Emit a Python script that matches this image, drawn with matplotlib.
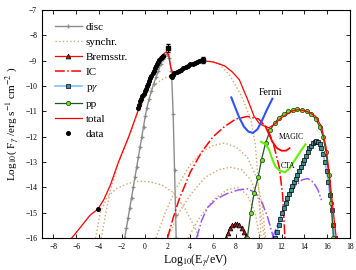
import matplotlib
matplotlib.use("Agg")
import matplotlib.pyplot as plt
import numpy as np

plt.rcParams["font.family"] = ["Liberation Serif", "DejaVu Serif"]
plt.rcParams["mathtext.fontset"] = "stix"

# --- data (log10 E [eV], log10 F [erg s^-1 cm^-2]) ---
disc_x = [-1.75, -1.6, -1.45, -1.3, -1.15, -1.0, -0.85, -0.7, -0.55, -0.4, -0.25, -0.1,
          0.05, 0.2, 0.4, 0.6, 0.8, 1.0, 1.2, 1.4, 1.6, 1.8, 2.0, 2.15, 2.35, 2.5, 2.62,
          2.72, 2.76]
disc_y = [-16.0, -15.6, -15.2, -14.8, -14.4, -14.0, -13.6, -13.2, -12.8, -12.4, -12.0, -11.6,
          -11.2, -10.85, -10.5, -10.2, -9.9, -9.65, -9.4, -9.15, -8.95, -8.8, -8.72, -8.9,
          -9.4, -11.1, -13.3, -15.1, -16.0]

synch_main_x = [-3.8, -3.4, -3.0, -2.3, -1.4, -0.6, 0.3, 1.0, 1.7, 2.5, 3.5, 4.5, 5.5, 6.5,
                7.5, 8.5, 9.3, 9.7, 10.0, 10.2]
synch_main_y = [-16.0, -15.0, -14.1, -13.05, -12.05, -11.05, -10.2, -9.9, -9.7, -9.55, -9.25,
                -9.05, -9.0, -9.1, -9.6, -10.4, -11.3, -12.3, -14.0, -16.0]
synch_a_x = [-4.3, -3.9, -3.3, -2.5, -1.5, -0.5, 0.5, 1.5, 2.5, 3.5, 4.3, 4.8]
synch_a_y = [-16.0, -15.0, -14.4, -14.05, -13.85, -13.75, -13.78, -13.9, -14.2, -14.8, -15.5, -16.0]
synch_b_x = [1.0, 1.8, 2.8, 4.0, 5.0, 6.0, 7.0, 8.0, 9.0, 9.8, 10.3, 10.6]
synch_b_y = [-16.0, -15.0, -14.0, -13.1, -12.6, -12.35, -12.25, -12.4, -12.8, -13.6, -14.7, -16.0]
synch_c_x = [2.0, 3.0, 4.0, 5.3, 6.5, 7.5, 8.5, 9.3, 10.0, 10.5]
synch_c_y = [-16.0, -15.0, -14.3, -13.6, -13.3, -13.2, -13.3, -13.7, -14.5, -16.0]
synch_d_x = [3.8, 4.8, 6.0, 7.2, 8.2, 9.0, 9.7, 10.1]
synch_d_y = [-16.0, -15.2, -14.5, -14.1, -14.0, -14.3, -15.0, -16.0]

brems_x = [7.1, 7.3, 7.5, 7.7, 7.9, 8.1, 8.3, 8.5, 8.7, 8.9, 9.0]
brems_y = [-16.0, -15.8, -15.6, -15.5, -15.45, -15.45, -15.5, -15.6, -15.75, -15.9, -16.0]

ic_x = [2.0, 2.5, 3.0, 4.0, 5.0, 6.0, 7.0, 8.0, 9.0, 10.0, 10.8, 11.3, 11.8, 12.1, 12.3]
ic_y = [-16.0, -15.2, -14.5, -13.4, -12.6, -12.0, -11.6, -11.3, -11.2, -11.3, -11.7, -12.3,
        -13.2, -14.3, -16.0]

sec1_x = [4.55, 5.0, 5.5, 6.3, 7.2, 8.2, 9.0, 9.7, 10.3, 10.8, 11.3]
sec1_y = [-16.0, -15.3, -14.8, -14.45, -14.25, -14.1, -14.05, -14.2, -14.6, -15.2, -16.0]
sec2_x = [11.2, 11.8, 12.5, 13.2, 13.8, 14.3, 14.8, 15.2, 15.5]
sec2_y = [-16.0, -15.3, -14.4, -13.95, -13.7, -13.65, -13.8, -14.1, -14.5]

pg_x = [11.45, 11.6, 11.75, 11.9, 12.05, 12.2, 12.35, 12.5, 12.65, 12.8, 12.95, 13.1, 13.25,
        13.4, 13.55, 13.7, 13.85, 14.0, 14.15, 14.3, 14.45, 14.6, 14.75, 14.9, 15.05, 15.2,
        15.35, 15.5, 15.65, 15.8, 15.95, 16.1, 16.25, 16.4, 16.55, 16.65]
pg_y = [-16.0, -15.75, -15.5, -15.25, -15.0, -14.8, -14.6, -14.4, -14.25, -14.1, -13.95,
        -13.8, -13.65, -13.5, -13.35, -13.2, -13.05, -12.9, -12.75, -12.6, -12.45, -12.35,
        -12.25, -12.2, -12.18, -12.2, -12.3, -12.45, -12.7, -13.0, -13.35, -13.8, -14.3,
        -14.9, -15.5, -16.0]

pp_x = [9.0, 9.3, 9.6, 9.95, 10.25, 10.6, 11.0, 11.4, 11.8, 12.2, 12.6, 13.0, 13.4, 13.8,
        14.2, 14.6, 15.0, 15.35, 15.65, 15.9, 16.15, 16.35, 16.55]
pp_y = [-16.0, -15.0, -14.2, -13.6, -12.9, -12.25, -11.75, -11.45, -11.25, -11.1, -11.0,
        -10.95, -10.9, -10.95, -11.0, -11.1, -11.3, -11.6, -12.0, -12.6, -13.5, -14.6, -16.0]

total_x = [-6.4, -5.5, -4.8, -4.1, -3.6, -3.0, -2.3, -1.4, -0.6, 0.3, 1.2, 1.6, 1.9, 2.1,
           2.3, 2.5, 2.8, 3.5, 4.3, 5.0, 6.0, 7.0, 7.7, 8.3, 9.0, 9.6, 10.1, 10.9, 11.4,
           12.0, 13.0, 13.5, 14.0, 14.5, 15.0, 15.5, 15.9, 16.2, 16.5, 16.8]
total_y = [-16.0, -15.5, -15.1, -14.85, -14.5, -13.9, -13.0, -12.0, -11.0, -10.0, -9.1,
           -8.75, -8.65, -8.75, -9.3, -9.5, -9.45, -9.3, -9.1, -9.0, -9.05, -9.2, -9.45,
           -9.75, -10.5, -11.2, -11.5, -11.65, -11.5, -11.25, -10.97, -10.93, -10.97,
           -11.05, -11.2, -11.6, -12.4, -13.5, -14.8, -16.0]

data_x = [-4.1, -0.6, -0.5, -0.4, -0.3, -0.2, -0.1, 0.0, 0.1, 0.2, 0.3, 0.4, 0.5, 0.6, 0.7,
          0.8, 0.9, 1.0, 1.1, 1.2, 1.3, 1.4, 1.5, 1.6, 2.3, 2.4, 2.5, 2.6, 2.8, 3.0, 3.2, 3.4,
          3.6, 3.8, 4.0, 4.2, 4.4, 4.6, 4.8, 5.0]
data_y = [-14.85, -10.85, -10.75, -10.6, -10.5, -10.4, -10.3, -10.2, -10.1, -10.0, -9.9,
          -9.8, -9.7, -9.6, -9.5, -9.4, -9.3, -9.2, -9.12, -9.04, -8.97, -8.9, -8.85, -8.8,
          -9.62, -9.64, -9.57, -9.5, -9.45, -9.4, -9.35, -9.3, -9.25, -9.2, -9.15, -9.12,
          -9.1, -9.05, -9.02, -8.98]
err_x = [2.05, 5.15]
err_y = [-8.5, -8.98]
err_e = [0.17, 0.12]

fermi_x = [7.6, 7.9, 8.3, 8.7, 9.1, 9.5, 9.9, 10.3, 10.7, 11.2]
fermi_y = [-10.45, -10.8, -11.25, -11.6, -11.8, -11.85, -11.7, -11.35, -10.95, -10.5]
magic_x = [10.6, 10.9, 11.2, 11.6, 12.0, 12.4, 12.7]
magic_y = [-11.6, -11.9, -12.2, -12.45, -12.55, -12.55, -12.45]
cta_x = [10.2, 10.6, 10.9, 11.2, 11.5, 11.9, 12.3, 12.7, 13.2, 13.7, 14.1]
cta_y = [-12.2, -12.3, -12.5, -12.9, -13.2, -13.35, -13.4, -13.25, -12.9, -12.55, -12.3]

SYN = "#d6a66c"

fig = plt.figure(figsize=(3.56, 2.70), dpi=100)
ax = fig.add_axes([0.118, 0.118, 0.865, 0.845])

ax.plot(disc_x, disc_y, color="#8c8c8c", lw=1.0, marker="+", ms=3.5, mew=0.9, label="disc")
for i, (sx, sy) in enumerate([(synch_main_x, synch_main_y), (synch_a_x, synch_a_y),
                              (synch_b_x, synch_b_y), (synch_c_x, synch_c_y),
                              (synch_d_x, synch_d_y)]):
    ax.plot(sx, sy, color=SYN, ls=":", lw=1.0, label="synchr." if i == 0 else None)
ax.plot(brems_x, brems_y, color="red", lw=0.9, marker="^", ms=3.5, mfc="#a02020",
        mec="black", mew=0.5, label="Bremsstr.")
ax.plot(ic_x, ic_y, color="red", ls="-.", lw=1.1, label="IC")
ax.plot(sec1_x, sec1_y, color="#9b55ff", ls="-.", lw=1.1)
ax.plot(sec2_x, sec2_y, color="#9b55ff", ls="-.", lw=1.1)
ax.plot(pg_x, pg_y, color="#7ec0ff", lw=1.2, marker="s", ms=2.3, mfc="#3f8f8f",
        mec="black", mew=0.5, label=r"p$\gamma$")
ax.plot(pp_x, pp_y, color="#1e5a1e", lw=0.9, marker="o", ms=3.0, mfc="#7ddc1f",
        mec="#1e5a1e", mew=0.6, label="pp")
ax.plot(total_x, total_y, color="red", lw=0.9, label="total")
ax.plot(data_x, data_y, ls="none", marker="o", ms=2.6, color="black", label="data")
ax.errorbar(err_x, err_y, yerr=err_e, fmt="s", ms=2.5, color="black", lw=0.8, capsize=1.5)

ax.plot(fermi_x, fermi_y, color="#2f52ff", lw=1.5)
ax.plot(magic_x, magic_y, color="red", lw=1.3)
ax.plot(cta_x, cta_y, color="#66ee00", lw=1.5)
ax.text(11.0, -10.25, "Fermi", fontsize=7, ha="center", va="center")
ax.text(12.9, -12.0, "MAGIC", fontsize=5.5, ha="center", va="center")
ax.text(12.6, -13.15, "CTA", fontsize=5.5, ha="center", va="center")

ax.set_xlim(-9, 18)
ax.set_ylim(-16, -7)
ax.set_xticks(np.arange(-8, 19, 2))
ax.set_yticks(np.arange(-16, -6, 1))
ax.tick_params(direction="in", top=True, right=True, labelsize=5.5, length=3, width=0.6)
for s in ax.spines.values():
    s.set_linewidth(0.8)
ax.set_xlabel(r"Log$_{10}$(E$_\gamma$/eV)", fontsize=8.5, labelpad=1)
ax.set_ylabel(r"Log$_{10}$( F$_\gamma$ /erg s$^{-1}$ cm$^{-2}$ )", fontsize=8, labelpad=2)

ax.legend(loc="upper left", bbox_to_anchor=(0.02, 0.975), frameon=False, fontsize=8,
          handlelength=2.4, labelspacing=0.47, handletextpad=0.4, borderaxespad=0.2)

fig.savefig("out.png", dpi=100)
